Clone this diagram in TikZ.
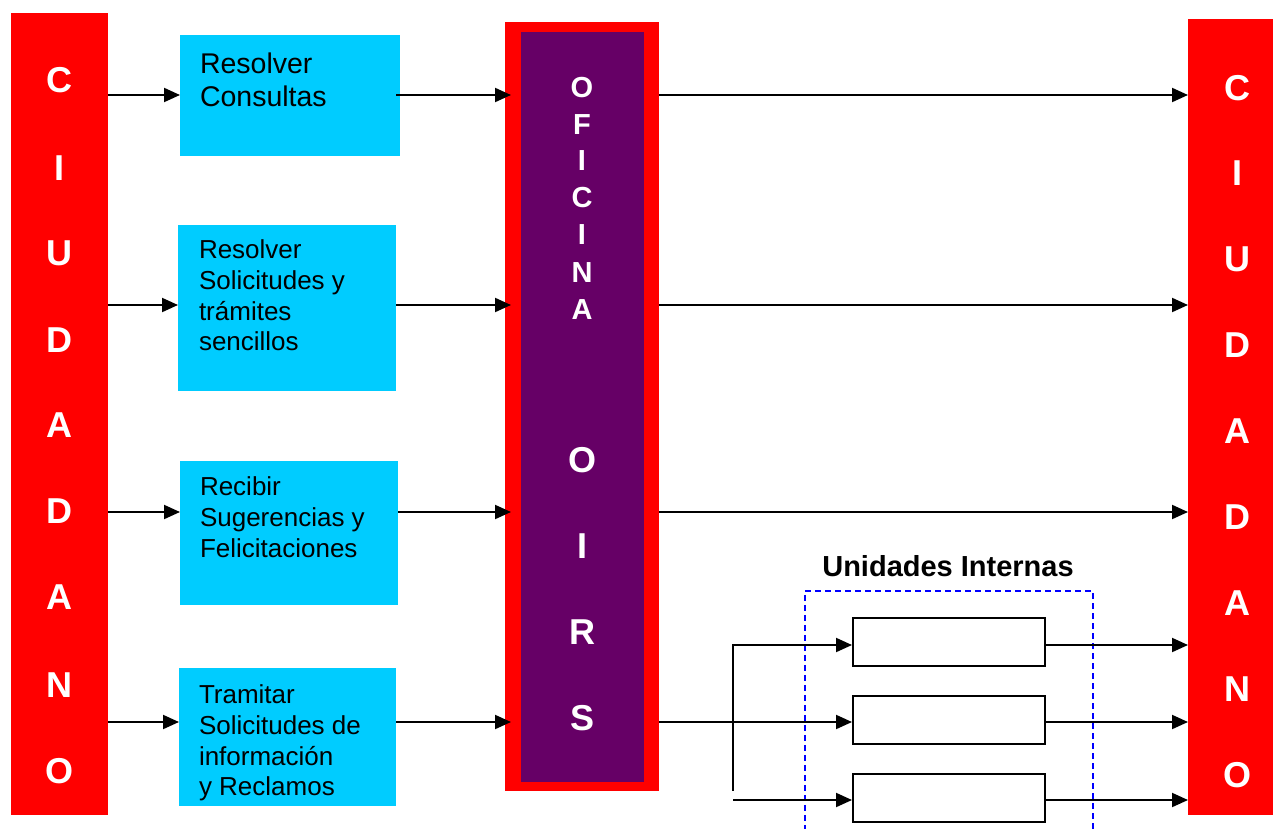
\documentclass[tikz,border=0pt]{standalone}
\usepackage{fontspec}
\setmainfont{Liberation Sans}
\usetikzlibrary{arrows.meta}
\definecolor{rojo}{HTML}{FF0000}
\definecolor{celeste}{HTML}{00CCFF}
\definecolor{morado}{HTML}{660066}
\definecolor{azul}{HTML}{0000FF}
\begin{document}
\begin{tikzpicture}[x=1pt,y=-1pt,
  redbar/.style={fill=rojo, draw=none, inner sep=0, outer sep=0, anchor=north west, minimum width=97pt},
  bluebox/.style={fill=celeste, draw=none, inner sep=0, outer sep=0, anchor=north west},
  boxtext/.style={inner sep=0, outer sep=0, anchor=north west, align=left, font=\fontsize{26}{30.7}\selectfont},
  bigletter/.style={text=white, inner sep=0, font=\fontsize{36}{36}\selectfont\bfseries},
  smallletter/.style={text=white, inner sep=0, font=\fontsize{29}{29}\selectfont\bfseries},
  unitbox/.style={fill=white, draw=black, line width=1.6pt, inner sep=0, anchor=north west, minimum width=192pt, minimum height=48pt},
  arr/.style={line width=2pt, -{Triangle[length=16pt,width=14pt]}},
  plain/.style={line width=2pt}
]
\useasboundingbox (0,0) rectangle (1273,829);
\clip (0,0) rectangle (1273,829);

% citizen bars
\node[redbar, minimum height=802pt] (ciuL) at (11,13) {};
\node[redbar, minimum height=796pt] (ciuR) at (1188,19) {};
\foreach \l/\y [count=\i] in {C/80,I/168,U/253,D/340,A/425,D/511,A/597,N/685,O/771}
  \node[bigletter] (cl\i) at (59.5,\y) {\l};
\foreach \l/\y [count=\i] in {C/88,I/173,U/259,D/345,A/431,D/517,A/603,N/689,O/775}
  \node[bigletter] (cr\i) at (1237,\y) {\l};

% OIRS
\node[fill=rojo, inner sep=0, outer sep=0, anchor=north west, minimum width=154pt, minimum height=769pt] (oirs) at (505,22) {};
\node[fill=morado, inner sep=0, outer sep=0, anchor=north west, minimum width=123pt, minimum height=750pt] (oirsin) at (521,32) {};
\foreach \l/\y [count=\i] in {O/88,F/125,I/161,C/198,I/235,N/273,A/310}
  \node[smallletter] (ol\i) at (582,\y) {\l};
\foreach \l/\y [count=\i] in {O/460,I/546,R/632,S/718}
  \node[bigletter] (os\i) at (582,\y) {\l};

% blue boxes
\node[bluebox, minimum width=220pt, minimum height=121pt] (b1) at (180,35) {};
\node[bluebox, minimum width=218pt, minimum height=166pt] (b2) at (178,225) {};
\node[bluebox, minimum width=218pt, minimum height=144pt] (b3) at (180,461) {};
\node[bluebox, minimum width=217pt, minimum height=138pt] (b4) at (179,668) {};
\node[boxtext, font=\fontsize{28.5}{33}\selectfont] (t1) at (200,53) {Resolver\\Consultas};
\node[boxtext] (t2) at (199,240) {Resolver\\Solicitudes y\\trámites\\sencillos};
\node[boxtext] (t3) at (200,477) {Recibir\\Sugerencias y\\Felicitaciones};
\node[boxtext] (t4) at (199,685) {Tramitar\\Solicitudes de\\información\\y Reclamos};

% internal units
\node[draw=azul, dashed, dash pattern=on 6pt off 4pt, line width=1.5pt, inner sep=0, anchor=north west, minimum width=288pt, minimum height=260pt] (ui) at (804,590) {};
\node[font=\fontsize{29}{29}\selectfont\bfseries, inner sep=0] (uilabel) at (948,566) {Unidades Internas};
\node[unitbox] (u1) at (852,617) {};
\node[unitbox] (u2) at (852,695) {};
\node[unitbox] (u3) at (852,773) {};

% row coordinates
\coordinate (r1) at (0,95);
\coordinate (r2) at (0,305);
\coordinate (r3) at (0,512);
\coordinate (r4) at (0,722);
\coordinate (split) at (733,645);
\coordinate (splitend) at (733,791);
\coordinate (low) at (733,800);

% connectors
\draw[arr] (ciuL.east |- r1) -- (b1.west |- r1);
\draw[arr] (ciuL.east |- r2) -- (b2.west |- r2);
\draw[arr] (ciuL.east |- r3) -- (b3.west |- r3);
\draw[arr] (ciuL.east |- r4) -- (b4.west |- r4);

\draw[arr] ([xshift=-4pt]b1.east |- r1) -- ([xshift=6pt]oirs.west |- r1);
\draw[arr] (b2.east |- r2) -- ([xshift=6pt]oirs.west |- r2);
\draw[arr] (b3.east |- r3) -- ([xshift=6pt]oirs.west |- r3);
\draw[arr] (b4.east |- r4) -- ([xshift=6pt]oirs.west |- r4);

\draw[arr] (oirs.east |- r1) -- (ciuR.west |- r1);
\draw[arr] (oirs.east |- r2) -- (ciuR.west |- r2);
\draw[arr] (oirs.east |- r3) -- (ciuR.west |- r3);

\draw[arr] (oirs.east |- r4) -- (u2.west |- r4);
\draw[plain] (split) -- (splitend);
\draw[arr] ([xshift=-1pt]split) -- (u1.west |- split);
\draw[arr] (low) -- (u3.west |- low);

\draw[arr] (u1.east |- split) -- (ciuR.west |- split);
\draw[arr] (u2.east |- r4) -- (ciuR.west |- r4);
\draw[arr] (u3.east |- low) -- (ciuR.west |- low);
\end{tikzpicture}
\end{document}
